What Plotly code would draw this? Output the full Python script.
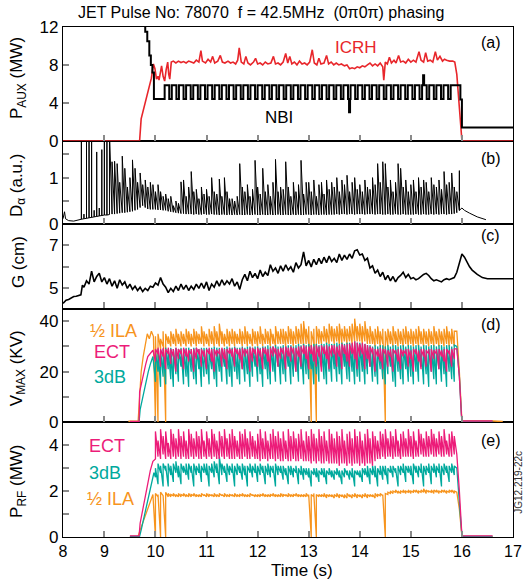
import plotly.graph_objects as go

FONT = "Liberation Sans, Arial, Helvetica, sans-serif"
RED = "#e8262b"
ORANGE = "#f7941d"
PINK = "#ec1c79"
TEAL = "#00a99d"
GRAY = "#8a8a8a"

TITLE = "JET Pulse No: 78070  f = 42.5MHz  (0\u03c00\u03c0) phasing"
X_TICKTEXT = ["8", "9", "10", "11", "12", "13", "14", "15", "16", "17"]

# ---------------- panel (a): P_AUX ----------------
ICRH_T = [8.19, 9.69, 9.72, 9.82, 9.92, 9.96, 9.99, 10.02, 10.05, 10.07, 10.10, 10.12, 10.15, 10.18,
          10.21, 10.24, 10.26, 10.28, 10.31, 10.35, 10.40, 10.45, 10.50, 10.55, 10.60, 10.65, 10.70,
          10.75, 10.80, 10.85, 10.89, 10.92, 10.98, 11.03, 11.08, 11.12, 11.16, 11.22, 11.27, 11.31,
          11.36, 11.42, 11.47, 11.52, 11.57, 11.61, 11.64, 11.68, 11.73, 11.77, 11.81, 11.86, 11.92,
          11.96, 12.00, 12.05, 12.10, 12.15, 12.20, 12.26, 12.31, 12.35, 12.40, 12.45, 12.50, 12.55,
          12.59, 12.63, 12.67, 12.72, 12.77, 12.82, 12.87, 12.92, 12.97, 13.02, 13.07, 13.11, 13.16,
          13.20, 13.24, 13.30, 13.35, 13.39, 13.44, 13.49, 13.54, 13.59, 13.64, 13.70, 13.75, 13.80,
          13.85, 13.90, 13.95, 14.00, 14.05, 14.10, 14.15, 14.20, 14.25, 14.30, 14.35, 14.40, 14.45,
          14.47, 14.50, 14.54, 14.58, 14.62, 14.67, 14.71, 14.76, 14.80, 14.85, 14.90, 14.95, 15.00,
          15.05, 15.10, 15.16, 15.20, 15.25, 15.29, 15.33, 15.38, 15.43, 15.48, 15.52, 15.57, 15.62,
          15.66, 15.70, 15.76, 15.82, 15.86, 15.90, 15.94, 15.97, 16.00, 17.00]
ICRH_V = [0, 0, 2.3, 4.3, 6.6, 8.1, 7.6, 6.5, 6.8, 6.4, 7.2, 7.9, 6.8, 6.3,
          7.5, 8.3, 7.0, 6.5, 8.3, 8.4, 8.2, 8.4, 8.25, 8.35, 8.2, 8.4, 8.3,
          8.2, 8.5, 8.3, 9.5, 8.4, 8.2, 8.6, 8.3, 8.9, 8.2, 8.4, 9.0, 8.3,
          8.2, 8.4, 8.2, 8.3, 8.1, 8.5, 9.8, 8.3, 8.1, 8.9, 8.2, 8.0, 8.3,
          8.7, 8.1, 8.2, 8.0, 8.3, 8.1, 8.2, 8.9, 8.1, 8.2, 8.0, 8.3, 9.2,
          8.2, 8.9, 8.1, 8.3, 8.0, 8.4, 8.1, 8.2, 8.0, 8.3, 9.6, 8.2, 8.0,
          8.7, 8.1, 8.2, 9.0, 8.1, 8.3, 8.0, 8.2, 8.0, 8.1, 7.9, 8.0, 7.6,
          7.7, 7.6, 7.8, 7.7, 7.9, 7.8, 8.0, 8.2, 7.9, 8.1, 7.9, 8.2, 7.8,
          6.4, 8.3, 8.1, 8.8, 8.2, 8.5, 8.2, 9.0, 8.3, 8.4, 8.2, 8.6, 8.3,
          8.5, 8.3, 9.4, 8.5, 8.3, 9.3, 8.4, 8.5, 8.3, 9.4, 8.5, 8.9, 8.4,
          8.6, 8.5, 8.4, 8.4, 8.3, 7.0, 4.0, 1.5, 0, 0]

NBI_T = [9.76, 9.80, 9.84, 9.88, 9.91, 9.94, 9.97,
         10.18, 10.27, 10.32, 10.41, 10.46, 10.55, 10.60, 10.69, 10.74, 10.83, 10.88, 10.97,
         11.02, 11.11, 11.16, 11.25, 11.30, 11.39, 11.44, 11.53, 11.58, 11.67, 11.72, 11.81, 11.86, 11.95,
         12.00, 12.09, 12.14, 12.23, 12.28, 12.37, 12.42, 12.51, 12.56, 12.65, 12.70, 12.79, 12.84, 12.93,
         12.98, 13.07, 13.12, 13.21, 13.26, 13.35, 13.40, 13.49, 13.54, 13.63, 13.68, 13.77, 13.79, 13.81, 13.82, 13.91,
         13.96, 14.05, 14.10, 14.19, 14.24, 14.33, 14.38, 14.47, 14.52, 14.61, 14.66, 14.75, 14.80, 14.89,
         14.94, 15.03, 15.08, 15.17, 15.22, 15.24, 15.26, 15.31, 15.36, 15.45, 15.50, 15.59, 15.64, 15.73,
         15.78, 15.97, 16.00, 17.00]
NBI_V = [12.5, 11.5, 10.5, 9.0, 8.0, 7.2, 4.4,
         5.85, 4.4, 5.85, 4.4, 5.85, 4.4, 5.85, 4.4, 5.85, 4.4, 5.85, 4.4,
         5.85, 4.4, 5.85, 4.4, 5.85, 4.4, 5.85, 4.4, 5.85, 4.4, 5.85, 4.4, 5.85, 4.4,
         5.85, 4.4, 5.85, 4.4, 5.85, 4.4, 5.85, 4.4, 5.85, 4.4, 5.85, 4.4, 5.85, 4.4,
         5.85, 4.4, 5.85, 4.4, 5.85, 4.4, 5.85, 4.4, 5.85, 4.4, 5.85, 4.4, 3.0, 4.4, 5.85, 4.4,
         5.85, 4.4, 5.85, 4.4, 5.85, 4.4, 5.85, 4.4, 5.85, 4.4, 5.85, 4.4, 5.85, 4.4,
         5.85, 4.4, 5.85, 4.4, 5.85, 6.9, 5.85, 4.4, 5.85, 4.4, 5.85, 4.4, 5.85, 4.4,
         5.85, 4.36, 1.39, 1.39]

# ---------------- panel (b): D-alpha ----------------
DA_PRE_T = [8.19, 8.21, 8.22, 8.24, 8.30, 8.40, 8.50]
DA_PRE_V = [0.12, 0.20, 0.27, 0.12, 0.08, 0.07, 0.10]
DA_T = [8.50, 8.55, 8.60, 8.65, 8.70, 8.75, 8.80, 8.85, 8.90, 8.95,
        9.00, 9.05, 9.10, 9.15, 9.20, 9.25, 9.30, 9.35, 9.40, 9.45,
        9.50, 9.55, 9.60, 9.65, 9.70, 9.75, 9.80, 9.85, 9.90, 9.95,
        10.00, 10.05, 10.10, 10.15, 10.20, 10.25, 10.30, 10.35, 10.40, 10.45,
        10.50, 10.55, 10.60, 10.65, 10.70, 10.75, 10.80, 10.85, 10.90, 10.95,
        11.00, 11.05, 11.10, 11.15, 11.20, 11.25, 11.30, 11.35, 11.40, 11.45,
        11.50, 11.55, 11.60, 11.65, 11.70, 11.75, 11.80, 11.85, 11.90, 11.95,
        12.00, 12.05, 12.10, 12.15, 12.20, 12.25, 12.30, 12.35, 12.40, 12.45,
        12.50, 12.55, 12.60, 12.65, 12.70, 12.75, 12.80, 12.85, 12.90, 12.95,
        13.00, 13.05, 13.10, 13.15, 13.20, 13.25, 13.30, 13.35, 13.40, 13.45,
        13.50, 13.55, 13.60, 13.65, 13.70, 13.75, 13.80, 13.85, 13.90, 13.95,
        14.00, 14.05, 14.10, 14.15, 14.20, 14.25, 14.30, 14.35, 14.40, 14.45,
        14.50, 14.55, 14.60, 14.65, 14.70, 14.75, 14.80, 14.85, 14.90, 14.95,
        15.00, 15.05, 15.10, 15.15, 15.20, 15.25, 15.30, 15.35, 15.40, 15.45,
        15.50, 15.55, 15.60, 15.65, 15.70, 15.75, 15.80, 15.85, 15.90, 15.95]
DA_LO = [0.10, 0.11, 0.12, 0.13, 0.14, 0.15, 0.16, 0.17, 0.18, 0.19,
         0.20, 0.20, 0.21, 0.22, 0.22, 0.23, 0.24, 0.25, 0.25, 0.26,
         0.27, 0.28, 0.30, 0.32, 0.36, 0.40, 0.36, 0.33, 0.32, 0.32,
         0.32, 0.31, 0.31, 0.30, 0.30, 0.28, 0.27, 0.26, 0.25, 0.24,
         0.23, 0.23, 0.22, 0.22, 0.22, 0.21, 0.22, 0.21, 0.21, 0.22,
         0.21, 0.21, 0.22, 0.21, 0.21, 0.20, 0.21, 0.21, 0.20, 0.21,
         0.20, 0.21, 0.20, 0.21, 0.20, 0.20, 0.21, 0.20, 0.20, 0.21,
         0.20, 0.20, 0.21, 0.20, 0.20, 0.21, 0.20, 0.20, 0.21, 0.20,
         0.20, 0.21, 0.20, 0.20, 0.21, 0.20, 0.21, 0.20, 0.20, 0.21,
         0.21, 0.20, 0.21, 0.21, 0.20, 0.21, 0.21, 0.20, 0.21, 0.21,
         0.21, 0.22, 0.21, 0.22, 0.22, 0.21, 0.22, 0.22, 0.21, 0.22,
         0.22, 0.22, 0.21, 0.22, 0.22, 0.22, 0.21, 0.22, 0.22, 0.21,
         0.21, 0.22, 0.21, 0.21, 0.22, 0.21, 0.21, 0.22, 0.21, 0.21,
         0.21, 0.21, 0.22, 0.21, 0.21, 0.22, 0.21, 0.21, 0.22, 0.21,
         0.22, 0.21, 0.22, 0.22, 0.21, 0.22, 0.22, 0.23, 0.25, 0.30]
DA_HI = [0.10, 2.00, 0.22, 2.00, 2.00, 2.00, 0.30, 1.55, 0.35, 1.60,
         2.00, 2.00, 2.00, 1.34, 1.35, 1.30, 0.90, 1.46, 1.20, 0.80,
         1.00, 1.38, 1.20, 0.90, 1.10, 0.85, 0.95, 0.80, 0.90, 0.85,
         0.70, 0.85, 0.70, 0.60, 0.65, 0.55, 0.60, 0.40, 0.50, 0.45,
         0.91, 0.95, 0.60, 0.80, 1.13, 0.70, 0.75, 0.55, 0.80, 0.65,
         0.75, 0.60, 1.00, 0.70, 0.65, 0.97, 0.60, 1.00, 0.70, 0.55,
         0.55, 0.50, 0.60, 1.30, 0.80, 0.70, 0.85, 0.60, 0.75, 1.37,
         0.80, 0.65, 1.20, 0.70, 0.85, 0.60, 0.90, 1.39, 0.70, 0.80,
         0.75, 1.34, 0.80, 0.60, 0.90, 0.70, 0.85, 1.37, 0.65, 0.90,
         0.90, 0.70, 0.95, 0.60, 0.85, 0.90, 0.65, 0.95, 0.75, 0.90,
         0.80, 1.00, 0.70, 0.95, 0.85, 1.05, 0.70, 0.90, 1.00, 0.75,
         0.85, 0.70, 0.95, 0.80, 0.75, 1.00, 0.85, 1.30, 0.90, 1.34,
         1.30, 0.80, 0.95, 0.70, 0.90, 1.30, 1.20, 0.80, 0.95, 0.70,
         0.85, 0.95, 0.70, 1.00, 0.80, 0.95, 0.90, 0.70, 1.00, 0.85,
         0.80, 0.95, 0.75, 1.13, 0.85, 0.90, 1.10, 0.80, 0.70, 1.15]
DA_POST_T = [15.95, 16.00, 16.05, 16.15, 16.30, 16.47]
DA_POST_V = [0.30, 0.35, 0.30, 0.24, 0.16, 0.10]
DA_ISOLATED_UNTIL = 9.10   # before this time the ELM spikes are isolated

# ---------------- panel (c): G ----------------
G_T = [8.19, 8.25, 8.30, 8.35, 8.40, 8.45, 8.50, 8.54, 8.57, 8.60, 8.65, 8.70, 8.75, 8.80, 8.85, 8.90, 8.95,
       9.00, 9.05, 9.10, 9.15, 9.20, 9.25, 9.30, 9.35, 9.40, 9.45, 9.50, 9.55, 9.60, 9.65, 9.70, 9.75, 9.80, 9.85, 9.90, 9.95,
       10.00, 10.05, 10.10, 10.15, 10.20, 10.25, 10.30, 10.35, 10.40, 10.45, 10.50, 10.55, 10.60, 10.65, 10.70, 10.75, 10.80, 10.85, 10.90, 10.95,
       11.00, 11.05, 11.10, 11.15, 11.20, 11.25, 11.30, 11.35, 11.40, 11.45, 11.50, 11.55, 11.60, 11.65, 11.70, 11.75, 11.80, 11.85, 11.90, 11.95,
       12.00, 12.05, 12.10, 12.15, 12.20, 12.25, 12.30, 12.35, 12.40, 12.45, 12.50, 12.55, 12.60, 12.65, 12.70, 12.75, 12.80, 12.85, 12.90, 12.95,
       13.00, 13.05, 13.10, 13.15, 13.20, 13.25, 13.30, 13.35, 13.40, 13.45, 13.50, 13.55, 13.60, 13.65, 13.70, 13.75, 13.80, 13.85, 13.90, 13.95,
       14.00, 14.05, 14.10, 14.15, 14.20, 14.25, 14.30, 14.35, 14.40, 14.45, 14.50, 14.55, 14.60, 14.65, 14.70, 14.75, 14.80, 14.85, 14.90, 14.95,
       15.00, 15.05, 15.10, 15.15, 15.20, 15.25, 15.30, 15.35, 15.40, 15.45, 15.50, 15.55, 15.60, 15.65, 15.70, 15.75, 15.80, 15.85, 15.90, 15.95,
       16.00, 16.05, 16.10, 16.15, 16.20, 16.30, 16.40, 16.50, 16.70, 16.90, 17.00]
G_V = [4.30, 4.45, 4.48, 4.55, 4.62, 4.63, 4.68, 4.70, 5.15, 5.05, 5.35, 5.20, 5.80, 5.30, 5.55, 5.70, 5.30,
       5.50, 5.20, 5.45, 5.10, 5.35, 5.00, 5.40, 5.15, 5.30, 5.00, 5.20, 4.95, 5.10, 4.90, 5.05, 4.85, 5.00, 4.90, 5.10, 5.05,
       5.25, 5.15, 5.50, 5.20, 5.05, 4.80, 5.00, 4.85, 5.10, 4.90, 5.20, 4.95, 5.15, 4.90, 5.10, 4.95, 5.20, 5.00, 5.25, 5.00,
       5.30, 4.90, 5.20, 5.05, 5.35, 5.10, 5.40, 5.15, 5.35, 5.20, 5.45, 5.10, 5.30, 4.95, 5.40, 5.65, 5.35, 5.80, 5.50, 5.70,
       5.45, 5.85, 5.55, 5.75, 5.60, 6.10, 5.80, 5.95, 5.70, 6.05, 5.80, 6.10, 5.85, 6.00, 5.75, 6.20, 5.95, 6.10, 6.70, 6.05,
       6.30, 6.00, 6.35, 6.10, 6.40, 6.15, 6.45, 6.20, 6.50, 6.25, 6.40, 6.20, 6.60, 6.30, 6.55, 6.35, 6.60, 6.40, 6.75, 6.80,
       6.55, 6.60, 6.30, 6.40, 5.95, 6.05, 5.70, 5.85, 5.55, 5.75, 5.40, 5.60, 5.35, 5.55, 5.30, 5.50, 5.60, 5.75, 5.50, 5.65,
       5.45, 5.50, 5.40, 5.45, 5.55, 5.65, 5.70, 5.60, 5.45, 5.35, 5.40, 5.35, 5.30, 5.40, 5.45, 5.40, 5.45, 5.50, 5.75, 6.20,
       6.60, 6.45, 6.20, 6.00, 5.85, 5.65, 5.50, 5.45, 5.45, 5.44, 5.45]

# ---------------- panels (d) and (e): shared time base ----------------
TB = [10.00, 10.05, 10.10, 10.15, 10.20, 10.25, 10.30, 10.35, 10.40, 10.45,
      10.50, 10.55, 10.60, 10.65, 10.70, 10.75, 10.80, 10.85, 10.90, 10.95,
      11.00, 11.05, 11.10, 11.15, 11.20, 11.25, 11.30, 11.35, 11.40, 11.45,
      11.50, 11.55, 11.60, 11.65, 11.70, 11.75, 11.80, 11.85, 11.90, 11.95,
      12.00, 12.05, 12.10, 12.15, 12.20, 12.25, 12.30, 12.35, 12.40, 12.45,
      12.50, 12.55, 12.60, 12.65, 12.70, 12.75, 12.80, 12.85, 12.90, 12.95,
      13.00, 13.05, 13.10, 13.15, 13.20, 13.25, 13.30, 13.35, 13.40, 13.45,
      13.50, 13.55, 13.60, 13.65, 13.70, 13.75, 13.80, 13.85, 13.90, 13.95,
      14.00, 14.05, 14.10, 14.15, 14.20, 14.25, 14.30, 14.35, 14.40, 14.45,
      14.50, 14.55, 14.60, 14.65, 14.70, 14.75, 14.80, 14.85, 14.90, 14.95,
      15.00, 15.05, 15.10, 15.15, 15.20, 15.25, 15.30, 15.35, 15.40, 15.45,
      15.50, 15.55, 15.60, 15.65, 15.70, 15.75, 15.80, 15.85]

# (d) V_MAX (kV)
ILA_D_RAMP_T = [9.47, 9.66, 9.69, 9.72, 9.76, 9.80, 9.84, 9.88, 9.92, 9.96]
ILA_D_RAMP_V = [0.4, 0.4, 10, 20, 26, 30, 35, 33, 36, 34]
ILA_D_HI = [34, 35, 33, 36, 35, 34, 36, 35, 37, 35,
            36, 35, 37, 36, 35, 37, 36, 35, 38, 36,
            35, 37, 36, 38, 36, 39, 36, 35, 37, 36,
            37, 36, 35, 37, 36, 38, 36, 35, 37, 36,
            36, 38, 35, 37, 36, 37, 35, 38, 36, 37,
            37, 36, 38, 37, 36, 38, 37, 39, 40, 37,
            38, 36, 37, 38, 37, 36, 38, 37, 39, 38,
            37, 38, 39, 37, 38, 37, 38, 39, 41, 38,
            39, 38, 40, 37, 38, 36, 37, 38, 36, 37,
            36, 37, 36, 38, 36, 37, 36, 37, 38, 36,
            37, 36, 37, 38, 36, 37, 36, 37, 36, 38,
            36, 37, 36, 37, 38, 36, 37, 36]
ILA_D_LO = [0, 0, 29, 30, 0, 31, 30, 31, 30, 31,
            30, 31, 30, 31, 30, 31, 30, 31, 31, 30,
            31, 30, 31, 30, 31, 30, 31, 30, 31, 30,
            31, 30, 31, 31, 30, 31, 30, 31, 30, 31,
            30, 31, 30, 31, 31, 30, 31, 30, 31, 31,
            31, 30, 31, 31, 30, 31, 31, 31, 30, 31,
            31, 0, 31, 0, 31, 31, 32, 31, 31, 32,
            31, 32, 31, 31, 32, 31, 32, 31, 32, 32,
            32, 31, 32, 31, 31, 31, 30, 31, 30, 31,
            0, 30, 31, 30, 31, 30, 31, 30, 31, 30,
            31, 30, 31, 30, 31, 30, 31, 30, 31, 30,
            31, 30, 31, 30, 31, 30, 31, 30]
ILA_D_END_T = [15.90, 15.95, 15.98, 16.00, 16.60, 16.80]
ILA_D_END_V = [36, 20, 5, 0.5, 0.5, 0.3]

ECT_D_RAMP_T = [9.50, 9.68, 9.69, 9.73, 9.77, 9.81, 9.85, 9.90, 9.95]
ECT_D_RAMP_V = [0.3, 0.3, 12, 16, 20, 23, 26, 27.5, 28.5]
ECT_D_HI = [29, 29.5, 29, 29.5, 29, 29.5, 29, 29, 29.5, 29,
            29, 29.5, 29, 28.5, 29, 29, 29.5, 29, 29, 28.5,
            29, 29.5, 29, 29, 28.5, 29, 29.5, 29, 29, 29.5,
            29, 29.5, 29, 29, 29.5, 29, 29, 29.5, 29.5, 29,
            29.5, 29, 29.5, 29.5, 29, 29.5, 30, 29.5, 29, 29.5,
            29.5, 30, 29.5, 30, 29.5, 29.5, 30, 30, 30.5, 30,
            30, 30.5, 30, 30.5, 30, 30.5, 30, 30.5, 30, 30.5,
            30.5, 30, 30.5, 31, 30.5, 31, 31, 31.5, 32, 31.5,
            31, 31.5, 31, 30.5, 30, 29.5, 29, 29, 29.5, 29,
            29, 28.5, 29, 29, 28.5, 29, 29, 28.5, 29, 29,
            28.5, 29, 29, 28.5, 29, 29, 28.5, 29, 29, 28.5,
            29, 29, 28.5, 29, 29, 28.5, 29, 29]
ECT_D_LO = [24, 27, 22, 26, 21, 27, 23, 26, 20, 25,
            27, 21, 26, 24, 27, 20, 25, 27, 22, 26,
            21, 27, 24, 20, 26, 27, 22, 25, 21, 27,
            26, 22, 27, 25, 21, 26, 27, 20, 24, 27,
            22, 26, 21, 27, 24, 20, 26, 27, 22, 25,
            27, 21, 26, 24, 27, 20, 26, 22, 27, 25,
            21, 27, 24, 22, 26, 20, 27, 25, 21, 26,
            27, 22, 26, 21, 27, 24, 22, 27, 25, 21,
            26, 27, 21, 25, 22, 27, 20, 26, 24, 21,
            27, 22, 26, 20, 27, 24, 21, 26, 27, 22,
            25, 20, 27, 24, 21, 26, 22, 27, 20, 25,
            27, 21, 26, 24, 20, 27, 22, 25]
ECT_D_END_T = [15.90, 15.95, 15.99, 16.00, 16.60]
ECT_D_END_V = [29, 18, 3, 0.5, 0.5]

DB3_D_RAMP_T = [9.50, 9.68, 9.70, 9.74, 9.78, 9.82, 9.86, 9.90, 9.95]
DB3_D_RAMP_V = [0.2, 0.2, 5, 9, 13, 17, 20, 23, 26]
DB3_D_HI = [28, 29, 28.5, 29, 29.5, 29, 29.5, 29, 29.5, 29,
            29.5, 29, 29.5, 29.5, 29, 29.5, 29.5, 29, 29.5, 29.5,
            29.5, 29, 29.5, 30, 29.5, 29.5, 29, 29.5, 30, 29.5,
            29.5, 30, 29.5, 29.5, 30, 29.5, 30, 30, 29.5, 30,
            30, 29.5, 30, 30, 30.5, 30, 30, 30.5, 30, 30,
            30.5, 30, 30.5, 30.5, 30, 30.5, 31, 30.5, 31, 30.5,
            31, 30.5, 31, 31, 30.5, 31, 31, 31.5, 31, 31,
            31, 31.5, 31, 31.5, 31, 31.5, 31.5, 31, 32, 31.5,
            31.5, 31, 31, 30.5, 30.5, 30, 30.5, 30, 30.5, 30.5,
            30, 30.5, 30, 30.5, 30.5, 30, 30.5, 30.5, 30, 30.5,
            30.5, 30, 30.5, 30.5, 30, 30.5, 30.5, 30, 30.5, 30.5,
            30, 30.5, 30.5, 30, 30.5, 30.5, 30, 30.5]
DB3_D_LO = [16, 20, 14, 18, 15, 21, 17, 14, 19, 16,
            22, 15, 18, 14, 20, 17, 15, 21, 14, 18,
            19, 15, 21, 17, 14, 20, 16, 22, 15, 18,
            14, 20, 17, 15, 21, 16, 19, 14, 18, 22,
            16, 19, 14, 21, 17, 15, 20, 16, 22, 15,
            19, 16, 22, 15, 18, 20, 16, 21, 15, 19,
            17, 21, 15, 19, 16, 22, 17, 15, 20, 16,
            21, 16, 19, 15, 22, 17, 16, 20, 15, 18,
            16, 20, 15, 19, 22, 16, 18, 15, 21, 17,
            15, 19, 22, 16, 14, 20, 17, 15, 21, 16,
            18, 15, 20, 16, 22, 15, 19, 14, 20, 17,
            15, 21, 16, 19, 14, 20, 17, 16]
DB3_D_END_T = [15.90, 15.95, 15.99, 16.00, 16.60]
DB3_D_END_V = [30, 18, 3, 0.3, 0.3]

# (e) P_RF (MW)
ILA_E_RAMP_T = [9.50, 9.66, 9.70, 9.75, 9.80, 9.85, 9.90, 9.95]
ILA_E_RAMP_V = [0.03, 0.03, 0.3, 0.6, 0.9, 1.2, 1.5, 1.85]
ILA_E_HI = [1.9, 1.85, 1.95, 1.8, 1.95, 1.9, 1.85, 1.9, 1.85, 1.9,
            1.85, 1.9, 1.85, 1.9, 1.85, 1.9, 1.85, 1.85, 1.9, 1.85,
            1.9, 1.85, 1.85, 1.9, 1.85, 1.9, 1.85, 1.9, 1.85, 1.85,
            1.85, 1.9, 1.85, 1.85, 1.9, 1.85, 1.85, 1.9, 1.85, 1.85,
            1.85, 1.85, 1.9, 1.85, 1.85, 1.85, 1.9, 1.85, 1.85, 1.9,
            1.85, 1.85, 1.9, 1.85, 1.85, 1.9, 1.85, 1.85, 1.85, 1.9,
            1.85, 1.85, 1.9, 1.85, 1.85, 1.85, 1.9, 1.85, 1.85, 1.85,
            1.85, 1.9, 1.85, 1.85, 1.85, 1.9, 1.85, 1.85, 1.9, 1.85,
            1.85, 1.85, 1.9, 1.85, 1.85, 1.85, 1.9, 1.85, 1.9, 1.85,
            1.9, 1.95, 2.0, 2.0, 2.05, 2.0, 2.0, 2.05, 2.0, 2.05,
            2.0, 2.05, 2.05, 2.0, 2.05, 2.1, 2.05, 2.0, 2.05, 2.05,
            2.05, 2.0, 2.05, 2.05, 2.0, 2.05, 2.05, 2.0]
ILA_E_LO = [0, 1.75, 0, 1.8, 0, 1.75, 1.75, 1.8, 1.75, 1.75,
            1.75, 1.8, 1.75, 1.75, 1.75, 1.8, 1.75, 1.75, 1.75, 1.8,
            1.75, 1.75, 1.8, 1.75, 1.75, 1.75, 1.8, 1.75, 1.75, 1.75,
            1.8, 1.75, 1.75, 1.75, 1.8, 1.75, 1.75, 1.75, 1.8, 1.75,
            1.75, 1.75, 1.8, 1.75, 1.75, 1.75, 1.8, 1.75, 1.75, 1.75,
            1.75, 1.8, 1.75, 1.75, 1.75, 1.8, 1.75, 1.75, 1.75, 1.75,
            1.75, 0, 1.75, 0, 1.75, 1.75, 1.75, 1.7, 1.75, 1.75,
            1.7, 1.75, 1.7, 1.75, 1.7, 1.7, 1.75, 1.7, 1.75, 1.7,
            1.75, 1.7, 1.75, 1.7, 1.75, 1.75, 1.7, 1.75, 1.8, 1.8,
            0, 1.85, 1.9, 1.9, 1.95, 1.9, 1.9, 1.95, 1.9, 1.95,
            1.9, 1.95, 1.95, 1.9, 1.95, 1.95, 1.9, 1.95, 1.95, 1.9,
            1.95, 1.9, 1.95, 1.95, 1.9, 1.95, 1.95, 1.9]
ILA_E_END_T = [15.90, 15.95, 15.99, 16.00, 16.60]
ILA_E_END_V = [1.95, 1.2, 0.2, 0.03, 0.03]

ECT_E_RAMP_T = [9.50, 9.68, 9.70, 9.75, 9.80, 9.85, 9.90, 9.95]
ECT_E_RAMP_V = [0.05, 0.05, 0.6, 1.2, 1.8, 2.4, 2.9, 3.3]
ECT_E_HI = [4.6, 4.2, 4.7, 4.4, 4.6, 4.1, 4.7, 4.5, 4.3, 4.7,
            4.4, 4.6, 4.2, 4.7, 4.5, 4.3, 4.6, 4.4, 4.7, 4.2,
            4.6, 4.3, 4.7, 4.5, 4.2, 4.6, 4.4, 4.7, 4.3, 4.5,
            4.7, 4.4, 4.2, 4.6, 4.5, 4.7, 4.3, 4.6, 4.4, 4.2,
            4.5, 4.7, 4.3, 4.6, 4.2, 4.5, 4.7, 4.4, 4.6, 4.3,
            4.6, 4.2, 4.7, 4.4, 4.6, 4.3, 4.5, 4.7, 4.2, 4.6,
            4.4, 4.7, 4.5, 4.3, 4.7, 4.4, 4.6, 4.2, 4.7, 4.5,
            4.3, 4.6, 4.4, 4.7, 4.2, 4.5, 4.6, 4.3, 4.7, 4.4,
            4.6, 4.2, 4.5, 4.7, 4.3, 4.6, 4.4, 4.2, 4.6, 4.5,
            4.7, 4.3, 4.6, 4.4, 4.7, 4.2, 4.5, 4.6, 4.3, 4.7,
            4.4, 4.6, 4.2, 4.7, 4.5, 4.3, 4.6, 4.4, 4.7, 4.5,
            4.3, 4.6, 4.4, 4.7, 4.2, 4.5, 4.6, 4.4]
ECT_E_LO = [3.4, 3.5, 3.4, 3.6, 3.4, 3.5, 3.4, 3.5, 3.4, 3.5,
            3.4, 3.5, 3.4, 3.4, 3.5, 3.4, 3.5, 3.4, 3.4, 3.5,
            3.4, 3.5, 3.4, 3.5, 3.4, 3.4, 3.5, 3.4, 3.5, 3.4,
            3.4, 3.4, 3.5, 3.4, 3.4, 3.5, 3.4, 3.4, 3.5, 3.4,
            3.4, 3.3, 3.4, 3.4, 3.3, 3.4, 3.4, 3.3, 3.4, 3.3,
            3.3, 3.4, 3.3, 3.3, 3.4, 3.3, 3.3, 3.4, 3.3, 3.3,
            3.3, 3.2, 3.3, 3.2, 3.3, 3.2, 3.2, 3.3, 3.2, 3.2,
            3.2, 3.2, 3.1, 3.2, 3.2, 3.1, 3.2, 3.1, 3.2, 3.2,
            3.1, 3.2, 3.1, 3.2, 3.2, 3.1, 3.3, 3.4, 3.4, 3.5,
            3.4, 3.5, 3.5, 3.4, 3.5, 3.5, 3.4, 3.5, 3.5, 3.5,
            3.5, 3.4, 3.5, 3.5, 3.6, 3.5, 3.5, 3.5, 3.6, 3.5,
            3.5, 3.6, 3.5, 3.5, 3.6, 3.5, 3.5, 3.6]
ECT_E_END_T = [15.90, 15.95, 15.99, 16.00, 16.60]
ECT_E_END_V = [3.6, 2.0, 0.3, 0.05, 0.05]

DB3_E_RAMP_T = [9.50, 9.69, 9.73, 9.78, 9.83, 9.88, 9.93, 9.97]
DB3_E_RAMP_V = [0.03, 0.03, 0.4, 0.9, 1.4, 1.9, 2.4, 2.8]
DB3_E_HI = [3.0, 3.2, 3.1, 3.2, 3.1, 3.2, 3.1, 3.2, 3.3, 3.1,
            3.2, 3.1, 3.2, 3.2, 3.1, 3.2, 3.1, 3.2, 3.1, 3.2,
            3.2, 3.1, 3.2, 3.3, 3.2, 3.5, 3.2, 3.1, 3.2, 3.1,
            3.2, 3.1, 3.2, 3.1, 3.2, 3.1, 3.1, 3.2, 3.1, 3.2,
            3.1, 3.2, 3.1, 3.1, 3.2, 3.1, 3.1, 3.2, 3.1, 3.1,
            3.1, 3.0, 3.1, 3.1, 3.0, 3.1, 3.0, 3.1, 3.0, 3.0,
            3.0, 2.9, 3.0, 3.0, 2.9, 3.0, 3.0, 2.9, 3.0, 2.9,
            2.9, 3.0, 2.9, 2.9, 3.0, 2.9, 2.9, 3.0, 2.9, 2.9,
            2.9, 3.0, 3.0, 3.1, 3.0, 3.1, 3.1, 3.0, 3.1, 3.1,
            3.1, 3.0, 3.1, 3.1, 3.0, 3.1, 3.1, 3.2, 3.1, 3.1,
            3.1, 3.2, 3.1, 3.1, 3.2, 3.1, 3.1, 3.2, 3.1, 3.2,
            3.1, 3.2, 3.1, 3.2, 3.1, 3.1, 3.2, 3.1]
DB3_E_LO = [2.6, 2.3, 2.8, 2.2, 2.9, 2.2, 2.7, 2.4, 2.8, 2.6,
            2.3, 2.8, 2.7, 2.5, 2.8, 2.2, 2.7, 2.8, 2.4, 2.8,
            2.7, 2.2, 2.8, 2.6, 2.8, 2.3, 2.7, 2.8, 2.4, 2.7,
            2.8, 2.2, 2.7, 2.8, 2.5, 2.7, 2.2, 2.8, 2.6, 2.8,
            2.4, 2.7, 2.8, 2.3, 2.7, 2.6, 2.8, 2.2, 2.7, 2.8,
            2.5, 2.7, 2.3, 2.7, 2.6, 2.8, 2.3, 2.7, 2.5, 2.7,
            2.6, 2.2, 2.7, 2.6, 2.4, 2.7, 2.6, 2.3, 2.7, 2.6,
            2.5, 2.7, 2.6, 2.3, 2.6, 2.7, 2.5, 2.6, 2.2, 2.7,
            2.6, 2.4, 2.7, 2.6, 2.3, 2.7, 2.6, 2.2, 2.7, 2.5,
            2.7, 2.3, 2.8, 2.6, 2.8, 2.2, 2.7, 2.8, 2.4, 2.8,
            2.7, 2.3, 2.8, 2.6, 2.8, 2.2, 2.7, 2.8, 2.3, 2.8,
            2.6, 2.8, 2.2, 2.7, 2.8, 2.4, 2.8, 2.7]
DB3_E_END_T = [15.90, 15.95, 15.99, 16.00, 16.60]
DB3_E_END_V = [3.0, 1.6, 0.2, 0.03, 0.03]


# ---------------- helpers to turn min/max samples into a line path ----------------
def zigzag(t, lo, hi):
    xs, ys = [], []
    for a, l, h in zip(t, lo, hi):
        xs += [a, a]
        ys += [l, h]
    return xs, ys


def comb(t, lo, hi):
    xs, ys = [], []
    for a, l, h in zip(t, lo, hi):
        xs += [a, a, a]
        ys += [l, h, l]
    return xs, ys


def band_series(rt, rv, t, lo, hi, et, ev):
    zx, zy = zigzag(t, lo, hi)
    return list(rt) + zx + list(et), list(rv) + zy + list(ev)


fig = go.Figure()


def add(x, y, color, width, xa, ya, shape="linear"):
    fig.add_trace(go.Scatter(x=x, y=y, mode="lines",
                             line=dict(color=color, width=width, shape=shape),
                             xaxis=xa, yaxis=ya, showlegend=False, hoverinfo="skip"))


# (a)
add(ICRH_T, ICRH_V, RED, 1.6, "x5", "y5")
add(NBI_T, NBI_V, "black", 2, "x5", "y5", shape="hv")

# (b) isolated spikes drawn as a comb, dense ELM phase as a min/max zigzag
n_iso = sum(1 for t in DA_T if t < DA_ISOLATED_UNTIL)
cx, cy = comb(DA_T[:n_iso], DA_LO[:n_iso], DA_HI[:n_iso])
zx, zy = zigzag(DA_T[n_iso:], DA_LO[n_iso:], DA_HI[n_iso:])
add(list(DA_PRE_T) + cx + zx + list(DA_POST_T), list(DA_PRE_V) + cy + zy + list(DA_POST_V), "black", 1, "x4", "y4")

# (c)
add(G_T, G_V, "black", 1.6, "x3", "y3")

# (d)
W = 1.3
x, y = band_series(ILA_D_RAMP_T, ILA_D_RAMP_V, TB, ILA_D_LO, ILA_D_HI, ILA_D_END_T, ILA_D_END_V)
add(x, y, ORANGE, W, "x2", "y2")
x, y = band_series(DB3_D_RAMP_T, DB3_D_RAMP_V, TB, DB3_D_LO, DB3_D_HI, DB3_D_END_T, DB3_D_END_V)
add(x, y, TEAL, W, "x2", "y2")
x, y = band_series(ECT_D_RAMP_T, ECT_D_RAMP_V, TB, ECT_D_LO, ECT_D_HI, ECT_D_END_T, ECT_D_END_V)
add(x, y, PINK, W, "x2", "y2")

# (e)
x, y = band_series(ILA_E_RAMP_T, ILA_E_RAMP_V, TB, ILA_E_LO, ILA_E_HI, ILA_E_END_T, ILA_E_END_V)
add(x, y, ORANGE, W, "x", "y")
x, y = band_series(DB3_E_RAMP_T, DB3_E_RAMP_V, TB, DB3_E_LO, DB3_E_HI, DB3_E_END_T, DB3_E_END_V)
add(x, y, TEAL, W, "x", "y")
x, y = band_series(ECT_E_RAMP_T, ECT_E_RAMP_V, TB, ECT_E_LO, ECT_E_HI, ECT_E_END_T, ECT_E_END_V)
add(x, y, PINK, W, "x", "y")

# ---------------- axes ----------------
X_RANGE = [8.19, 17]
x_tickvals = [X_RANGE[0]] + [int(s) for s in X_TICKTEXT[1:]]
axis_common = dict(showline=True, linecolor="black", linewidth=1.2, mirror=True,
                   ticks="inside", ticklen=6, tickwidth=1.5, tickcolor=GRAY,
                   showgrid=False, zeroline=False, automargin=False,
                   tickfont=dict(family=FONT, size=17, color="black"))
minor_common = dict(ticks="inside", ticklen=6, tickwidth=1.5, tickcolor=GRAY, showgrid=False)

domains = {"": [0, 0.225], "2": [0.225, 0.448], "3": [0.448, 0.613],
           "4": [0.613, 0.777], "5": [0.777, 1.0]}
yspecs = {
    "": dict(range=[0, 5], tickvals=[0, 2, 4], minor=dict(minor_common, tickvals=[1, 3])),
    "2": dict(range=[0, 45], tickvals=[0, 20, 40], minor=dict(minor_common, tickvals=[10, 30])),
    "3": dict(range=[4.06, 7.98], tickvals=[5, 7], minor=dict(minor_common, tickvals=[6])),
    "4": dict(range=[0, 1.79], tickvals=[0, 1], minor=dict(minor_common, tickvals=[0.5, 1.5])),
    "5": dict(range=[0, 12], tickvals=[0, 4, 8, 12]),
}

layout = dict(width=525, height=582, margin=dict(l=63, r=12, t=27, b=45, autoexpand=False),
              plot_bgcolor="white", paper_bgcolor="white", showlegend=False,
              font=dict(family=FONT, size=16, color="black"))
for k, dom in domains.items():
    xa = dict(axis_common, domain=[0, 1], range=X_RANGE, anchor="y" + k, tickvals=x_tickvals)
    if k == "":
        xa.update(ticktext=X_TICKTEXT, showticklabels=True,
                  tickfont=dict(family=FONT, size=16, color="black"))
    else:
        xa.update(showticklabels=False, matches="x")
    layout["xaxis" + k] = xa
    ya = dict(axis_common, domain=dom, anchor="x" + k)
    ya.update(yspecs[k])
    layout["yaxis" + k] = ya

fig.update_layout(**layout)

# ---------------- text ----------------
ann = []


def text(s, x, y, xref, yref, size=16, color="black", **kw):
    ann.append(dict(text=s, x=x, y=y, xref=xref, yref=yref, showarrow=False,
                    font=dict(family=FONT, size=size, color=color), **kw))


text(TITLE, 0.441, 1.029, "paper", "paper", size=16, xanchor="center", yanchor="middle")
text("Time (s)", 0.53, -0.065, "paper", "paper", size=17, xanchor="center", yanchor="middle")

ytitles = [("P<sub>AUX</sub> (MW)", 0.90), ("D<sub>\u03b1</sub> (a.u.)", 0.69), ("G (cm)", 0.539),
           ("V<sub>MAX</sub> (KV)", 0.331), ("P<sub>RF</sub> (MW)", 0.108)]
for s, yy in ytitles:
    text(s, 0, yy, "paper", "paper", size=17, textangle=-90, xshift=-45, xanchor="center", yanchor="middle")

text("(a)", 16.56, 10.4, "x5", "y5")
text("(b)", 16.56, 1.42, "x4", "y4")
text("(c)", 16.56, 7.48, "x3", "y3")
text("(d)", 16.56, 38.5, "x2", "y2")
text("(e)", 16.56, 4.2, "x", "y")

text("ICRH", 13.93, 9.8, "x5", "y5", size=17, color=RED)
text("NBI", 12.42, 2.48, "x5", "y5", size=17)

text("\u00bd ILA", 8.67, 36, "x2", "y2", size=18, color=ORANGE, xanchor="left")
text("ECT", 8.75, 27.7, "x2", "y2", size=18, color=PINK, xanchor="left")
text("3dB", 8.75, 17.8, "x2", "y2", size=18, color=TEAL, xanchor="left")

text("ECT", 8.65, 3.98, "x", "y", size=18, color=PINK, xanchor="left")
text("3dB", 8.65, 2.8, "x", "y", size=18, color=TEAL, xanchor="left")
text("\u00bd ILA", 8.62, 1.67, "x", "y", size=18, color=ORANGE, xanchor="left")

text("JG12.219-22c", 1.013, 0.108, "paper", "paper", size=10, color="#333333", textangle=-90,
     xanchor="center", yanchor="middle")

fig.update_layout(annotations=ann)
# the page's default 8px body margin would shift the fixed-size figure; remove it
fig.write_html("out.html", config={"displayModeBar": False},
               post_script="document.body.style.margin='0px';")
